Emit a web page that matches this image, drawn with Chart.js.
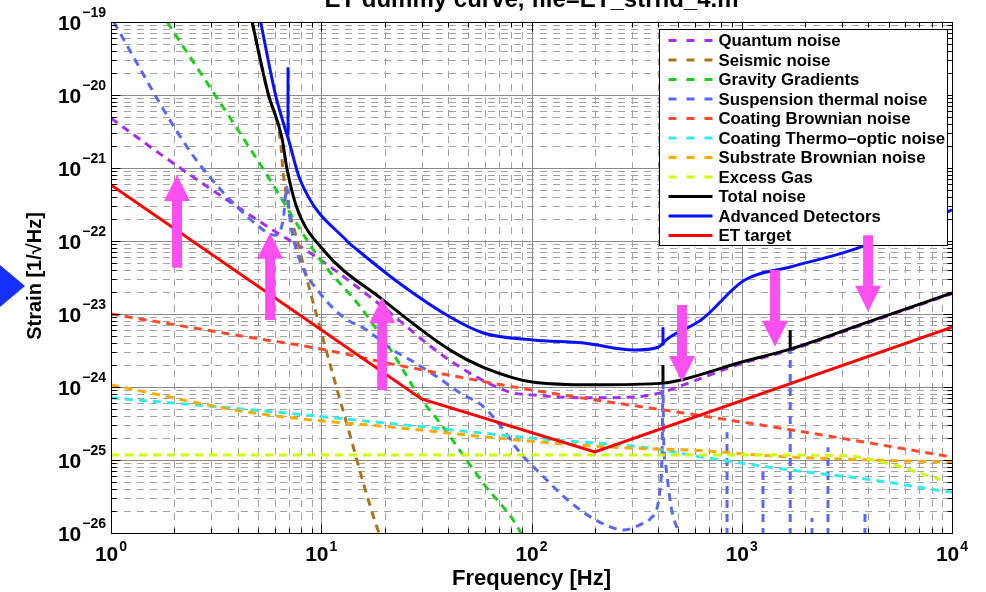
<!DOCTYPE html>
<html>
<head>
<meta charset="utf-8">
<title>ET dummy curve</title>
<script src="https://cdn.jsdelivr.net/npm/chart.js@4.4.1/dist/chart.umd.min.js"></script>
<style>
  html, body { margin: 0; padding: 0; background: #fff; }
  #wrap { width: 986px; height: 592px; position: relative; }
</style>
</head>
<body>
<div id="wrap"><canvas id="myChart"></canvas></div>
<script>
'use strict';

// axis limits and decade labels
let freqMin = 1;
let freqMax = 1e4;
let strainMin = 1e-26;
let strainMax = 1e-19;
let freqExponents = [0, 1, 2, 3, 4];
let strainExponents = [-26, -25, -24, -23, -22, -21, -20, -19];

let titleText = 'ET dummy curve, file=ET_strnd_4.m';
let xTitle = 'Frequency [Hz]';
let yTitle = 'Strain [1/\u221AHz]';

let seriesLabels = [
  'Quantum noise', 'Seismic noise', 'Gravity Gradients', 'Suspension thermal noise',
  'Coating Brownian noise', 'Coating Thermo\u2013optic noise', 'Substrate Brownian noise',
  'Excess Gas', 'Total noise', 'Advanced Detectors', 'ET target'
];

// noise curves, frequency in Hz and strain in 1/sqrt(Hz)
let quantumFreq = [1, 2.1, 5.7, 9.5, 18.4, 41, 79, 100, 177, 307, 422, 520, 1000, 1700, 4000, 10000];
let quantumStrain = [4.8e-21, 1.03e-21, 1.5e-22, 6e-23, 1.45e-23, 2.3e-24, 8.5e-25, 7.8e-25, 7.1e-25, 7.3e-25, 8.5e-25, 1.05e-24, 2.1e-24, 3.2e-24, 7.6e-24, 1.9e-23];

let seismicFreq = [4.69, 5.58, 6.4, 6.6, 7.9, 9.85, 13.2, 18.4, 19.5];
let seismicStrain = [9.8e-20, 1.05e-20, 2.3e-21, 8.3e-22, 7.5e-23, 6.6e-24, 3.2e-25, 1.2e-26, 8e-27];

let gravityFreq = [1.85, 5.26, 10, 15, 21.9, 29.5, 36.8, 59, 86, 92];
let gravityStrain = [1e-19, 1e-21, 5.3e-23, 1.36e-23, 2.9e-24, 7.2e-25, 3.2e-25, 4.8e-26, 1.2e-26, 8e-27];

let suspensionFreq = [1.03, 2.04, 2.72, 5.09, 6.0, 6.6, 6.85, 7.1, 7.9, 9.85, 12.7, 16.5, 21.9, 26.5, 35.5, 45.8, 59, 73.5, 86, 114, 154, 214, 275, 343, 370, 413, 419, 422, 425, 436, 461, 503, 530];
let suspensionStrain = [1e-19, 3.3e-21, 1e-21, 1.55e-22, 1.2e-22, 2e-22, 5.5e-22, 2e-22, 5.5e-23, 1.94e-23, 9.1e-24, 6e-24, 3.2e-24, 2.35e-24, 1.38e-24, 8.3e-25, 5.4e-25, 2.6e-25, 1.38e-25, 5.9e-26, 2.6e-26, 1.38e-26, 1.1e-26, 1.38e-26, 1.6e-26, 5.4e-26, 2e-25, 1.15e-24, 2e-25, 8e-26, 2.3e-26, 1e-26, 7e-27];

// violin modes of the suspension: narrow lines rising from below the plot
let violinFreq = [851, 1262, 1700, 2158, 2571, 3855];
let violinPeak = [2.4e-25, 7.8e-26, 3.4e-24, 1.6e-26, 1.5e-25, 2.1e-26];
let violinBase = [1e-27, 1e-27, 1e-27, 1e-27, 1e-27, 1e-27];

let coatingFreq = [1, 4.56, 9.5, 23, 100, 530, 1700, 10000];
let coatingStrain = [1e-23, 4.8e-24, 3.4e-24, 2e-24, 9.1e-25, 4.4e-25, 2.6e-25, 1.1e-25];

let thermoFreq = [1, 4.56, 28.6, 100, 370, 641, 1700, 4050, 10000];
let thermoStrain = [7.1e-25, 4.9e-25, 2.9e-25, 2.0e-25, 1.45e-25, 1.1e-25, 7.3e-26, 5.4e-26, 3.6e-26];

let substrateFreq = [1, 4.56, 28.6, 100, 300, 530, 1700, 10000];
let substrateStrain = [1.07e-24, 4.5e-25, 2.6e-25, 1.8e-25, 1.45e-25, 1.38e-25, 1.1e-25, 9.3e-26];

let gasFreq = [1, 100, 1000, 3000, 4790, 8770];
let gasStrain = [1.17e-25, 1.17e-25, 1.17e-25, 1.15e-25, 9.2e-26, 5.4e-26];

let totalFreq = [4.69, 5.58, 6.5, 6.86, 7.64, 10.2, 19.7, 41, 59, 101, 197, 422, 520, 1000, 1700, 4000, 10000];
let totalStrain = [1e-19, 1.07e-20, 2.6e-21, 1e-21, 2.9e-22, 7.6e-23, 1.55e-23, 3.2e-24, 1.86e-24, 1.17e-24, 1.07e-24, 1.13e-24, 1.26e-24, 2.2e-24, 3.3e-24, 7.8e-24, 1.94e-23];
let totalSpikeFreq = [422, 1700];
let totalSpikeBase = [1.13e-24, 3.3e-24];
let totalSpikePeak = [2.0e-24, 6e-24];

let advancedFreq = [5.15, 6.03, 6.72, 7.0, 7.93, 13.4, 14.8, 23.7, 41, 59, 102, 177, 307, 400, 445, 641, 1028, 1700, 3333, 10000];
let advancedStrain = [1e-19, 1.07e-20, 3.5e-21, 2.4e-21, 6.9e-22, 9.7e-23, 7.6e-23, 2.6e-23, 9.1e-24, 5.5e-24, 4.4e-24, 4e-24, 3.2e-24, 3.5e-24, 4.6e-24, 8.3e-24, 2.9e-23, 4.4e-23, 7.5e-23, 2.66e-22];
let advancedSpikeFreq = [6.95, 422];
let advancedSpikeBase = [2.8e-21, 3.7e-24];
let advancedSpikePeak = [2.4e-20, 6.6e-24];

let targetFreq = [1, 30, 200, 10000];
let targetStrain = [5.85e-22, 6.85e-25, 1.29e-25, 6.6e-24];

// magenta arrows: frequency, strain at the tail, strain at the tip
let arrowFreq = [2.06, 5.71, 19.5, 520, 1439, 3990];
let arrowFrom = [4.3e-23, 8.3e-24, 9.1e-25, 1.33e-23, 4e-23, 1.2e-22];
let arrowTo = [8e-22, 1.3e-22, 1.7e-23, 1.17e-24, 3.55e-24, 1.07e-23];

// styles
let seriesColors = ['#a52ff0', '#a8761f', '#1fcc1f', '#5a68f5', '#ff4a30', '#33ecec', '#ffab00', '#ccff00', '#000000', '#0a10ff', '#ff0000'];
let seriesDashed = [true, true, true, true, true, true, true, true, false, false, false];
let seriesSmooth = [true, true, true, true, true, true, true, true, true, true, false];
let arrowColor = '#ff4ff0';
let fontFamily = '"Liberation Sans", Arial, Helvetica, sans-serif';


function toPoints(freqs, strains) {
  return freqs.map((f, i) => ({x: f, y: strains[i]}));
}

// vertical resonance lines, each one broken off from the next by a gap
function spikePoints(freqs, bases, peaks) {
  let pts = [];
  for (let i = 0; i < freqs.length; i++) {
    pts.push({x: freqs[i], y: bases[i]});
    pts.push({x: freqs[i], y: peaks[i]});
    pts.push({x: freqs[i], y: null});
  }
  return pts;
}

let seriesData = [
  toPoints(quantumFreq, quantumStrain),
  toPoints(seismicFreq, seismicStrain),
  toPoints(gravityFreq, gravityStrain),
  toPoints(suspensionFreq, suspensionStrain),
  toPoints(coatingFreq, coatingStrain),
  toPoints(thermoFreq, thermoStrain),
  toPoints(substrateFreq, substrateStrain),
  toPoints(gasFreq, gasStrain),
  toPoints(totalFreq, totalStrain),
  toPoints(advancedFreq, advancedStrain),
  toPoints(targetFreq, targetStrain)
];

let datasets = [];
for (let i = 0; i < seriesLabels.length; i++) {
  datasets.push({
    label: seriesLabels[i],
    data: seriesData[i],
    borderColor: seriesColors[i],
    borderWidth: 3,
    borderDash: seriesDashed[i] ? [8, 6] : [],
    pointRadius: 0,
    fill: false,
    cubicInterpolationMode: seriesSmooth[i] ? 'monotone' : 'default',
    tension: 0,
    spanGaps: false,
    // later entries sit on top, like the original plot
    order: seriesLabels.length - i
  });
}

// resonance lines share colour and layer with their parent curve
function addSpikes(parent, pts) {
  let p = datasets[parent];
  datasets.push({
    label: p.label,
    legendSkip: true,
    data: pts,
    borderColor: p.borderColor,
    borderWidth: 3,
    borderDash: p.borderDash,
    pointRadius: 0,
    fill: false,
    tension: 0,
    spanGaps: false,
    order: p.order
  });
}
addSpikes(3, spikePoints(violinFreq, violinBase, violinPeak));
addSpikes(8, spikePoints(totalSpikeFreq, totalSpikeBase, totalSpikePeak));
addSpikes(9, spikePoints(advancedSpikeFreq, advancedSpikeBase, advancedSpikePeak));

function minorValues(exps) {
  let vals = [];
  for (let k = 0; k < exps.length - 1; k++) {
    for (let m = 2; m <= 9; m++) {
      vals.push(m * Math.pow(10, exps[k]));
    }
  }
  return vals;
}

function expText(exp) {
  return exp < 0 ? '\u2212' + Math.abs(exp) : String(exp);
}

function drawPower(ctx, exp, xLeft, yMid, yExpBase) {
  ctx.font = 'bold 21px ' + fontFamily;
  ctx.textAlign = 'left';
  ctx.textBaseline = 'middle';
  ctx.fillText('10', xLeft, yMid);
  let w = ctx.measureText('10').width;
  ctx.font = 'bold 14px ' + fontFamily;
  ctx.textBaseline = 'alphabetic';
  ctx.fillText(expText(exp), xLeft + w + 1, yExpBase);
}

function powerWidth(ctx, exp) {
  ctx.font = 'bold 21px ' + fontFamily;
  let w = ctx.measureText('10').width;
  ctx.font = 'bold 14px ' + fontFamily;
  return w + 1 + ctx.measureText(expText(exp)).width;
}

function drawArrow(ctx, px, yTail, yTip) {
  let dir = yTip < yTail ? -1 : 1;
  let headLen = 26, headHalf = 13, shaftHalf = 5;
  let yBase = yTip - dir * headLen;
  ctx.beginPath();
  ctx.moveTo(px - shaftHalf, yTail);
  ctx.lineTo(px - shaftHalf, yBase);
  ctx.lineTo(px - headHalf, yBase);
  ctx.lineTo(px, yTip);
  ctx.lineTo(px + headHalf, yBase);
  ctx.lineTo(px + shaftHalf, yBase);
  ctx.lineTo(px + shaftHalf, yTail);
  ctx.closePath();
  ctx.fill();
}

const axesDecor = {
  id: 'axesDecor',
  beforeDatasetsDraw(chart) {
    const {ctx, chartArea: area, scales: {x, y}} = chart;
    ctx.save();
    ctx.lineWidth = 1;

    // dashed minor grid
    ctx.strokeStyle = '#a2a2a2';
    ctx.setLineDash([7, 6]);
    ctx.beginPath();
    minorValues(freqExponents).forEach(v => {
      let px = Math.round(x.getPixelForValue(v)) + 0.5;
      ctx.moveTo(px, area.bottom);
      ctx.lineTo(px, area.top);
    });
    minorValues(strainExponents).forEach(v => {
      let py = Math.round(y.getPixelForValue(v)) + 0.5;
      ctx.moveTo(area.left, py);
      ctx.lineTo(area.right, py);
    });
    ctx.stroke();

    // solid decade lines
    ctx.setLineDash([]);
    ctx.strokeStyle = '#8a8a8a';
    ctx.beginPath();
    freqExponents.forEach(e => {
      let px = Math.round(x.getPixelForValue(Math.pow(10, e))) + 0.5;
      ctx.moveTo(px, area.bottom);
      ctx.lineTo(px, area.top);
    });
    strainExponents.forEach(e => {
      let py = Math.round(y.getPixelForValue(Math.pow(10, e))) + 0.5;
      ctx.moveTo(area.left, py);
      ctx.lineTo(area.right, py);
    });
    ctx.stroke();
    ctx.restore();
  },

  afterDatasetsDraw(chart) {
    const {ctx, chartArea: area, scales: {x, y}} = chart;
    ctx.save();

    // axes box with inward ticks on all sides
    ctx.strokeStyle = '#000';
    ctx.lineWidth = 1;
    ctx.setLineDash([]);
    let L = Math.round(area.left) + 0.5, R = Math.round(area.right) + 0.5;
    let T = Math.round(area.top) + 0.5, B = Math.round(area.bottom) + 0.5;
    ctx.strokeRect(L, T, R - L, B - T);
    ctx.beginPath();
    let xTicks = minorValues(freqExponents).map(v => [v, 5]).concat(freqExponents.map(e => [Math.pow(10, e), 9]));
    xTicks.forEach(([v, len]) => {
      let px = Math.round(x.getPixelForValue(v)) + 0.5;
      ctx.moveTo(px, B); ctx.lineTo(px, B - len);
      ctx.moveTo(px, T); ctx.lineTo(px, T + len);
    });
    let yTicks = minorValues(strainExponents).map(v => [v, 5]).concat(strainExponents.map(e => [Math.pow(10, e), 9]));
    yTicks.forEach(([v, len]) => {
      let py = Math.round(y.getPixelForValue(v)) + 0.5;
      ctx.moveTo(L, py); ctx.lineTo(L + len, py);
      ctx.moveTo(R, py); ctx.lineTo(R - len, py);
    });
    ctx.stroke();

    // legend box in the upper right corner
    let lw = 288, lh = 216;
    let lx = Math.round(area.right) - 293 + 0.5, ly = Math.round(area.top) + 7 + 0.5;
    ctx.fillStyle = '#fff';
    ctx.fillRect(lx, ly, lw, lh);
    ctx.strokeStyle = '#000';
    ctx.lineWidth = 1;
    ctx.strokeRect(lx, ly, lw, lh);
    chart.data.datasets.filter(ds => !ds.legendSkip).forEach((ds, i) => {
      let yy = ly + 11 + i * 19.5;
      ctx.strokeStyle = ds.borderColor;
      ctx.lineWidth = 3;
      ctx.setLineDash(ds.borderDash.length ? [8, 10] : []);
      ctx.beginPath();
      ctx.moveTo(lx + 9, yy);
      ctx.lineTo(lx + 53, yy);
      ctx.stroke();
      ctx.fillStyle = '#000';
      ctx.font = 'bold 16.8px ' + fontFamily;
      ctx.textAlign = 'left';
      ctx.textBaseline = 'middle';
      ctx.fillText(ds.label, lx + 59, yy + 1);
    });
    ctx.setLineDash([]);

    // arrows
    ctx.fillStyle = arrowColor;
    for (let i = 0; i < arrowFreq.length; i++) {
      drawArrow(ctx, x.getPixelForValue(arrowFreq[i]), y.getPixelForValue(arrowFrom[i]), y.getPixelForValue(arrowTo[i]));
    }
    ctx.restore();
  },

  afterDraw(chart) {
    const {ctx, chartArea: area, scales: {x, y}} = chart;
    ctx.save();
    ctx.fillStyle = '#000';

    // tick labels as powers of ten
    strainExponents.forEach(e => {
      let py = y.getPixelForValue(Math.pow(10, e));
      let w = powerWidth(ctx, e);
      drawPower(ctx, e, area.left - 5 - w, py + 2, py - 5);
    });
    freqExponents.forEach(e => {
      let px = x.getPixelForValue(Math.pow(10, e));
      let w = powerWidth(ctx, e);
      drawPower(ctx, e, px - w / 2, area.bottom + 22, area.bottom + 18);
    });

    // axis titles
    ctx.font = 'bold 22px ' + fontFamily;
    ctx.textAlign = 'center';
    ctx.textBaseline = 'middle';
    ctx.fillText(xTitle, (area.left + area.right) / 2, area.bottom + 46);
    ctx.save();
    ctx.translate(35, 276);
    ctx.rotate(-Math.PI / 2);
    ctx.font = 'bold 20px ' + fontFamily;
    ctx.fillText(yTitle, 0, 0);
    ctx.restore();

    // title, partly above the canvas edge
    ctx.font = 'bold 24px ' + fontFamily;
    ctx.textBaseline = 'alphabetic';
    ctx.fillText(titleText, (area.left + area.right) / 2, 7);

    // blue pointer at the left edge
    ctx.fillStyle = '#1530ff';
    ctx.beginPath();
    ctx.moveTo(0, 265);
    ctx.lineTo(25, 286);
    ctx.lineTo(0, 307);
    ctx.closePath();
    ctx.fill();
    ctx.restore();
  }
};

let ctx = document.getElementById('myChart').getContext('2d');

const myChart = new Chart(ctx, {
  type: 'line',
  data: { datasets: datasets },
  options: {
    responsive: true,
    maintainAspectRatio: false,
    animation: false,
    layout: { padding: { left: 111, right: 34, top: 22, bottom: 59 } },
    scales: {
      x: { type: 'logarithmic', min: freqMin, max: freqMax, display: false },
      y: { type: 'logarithmic', min: strainMin, max: strainMax, display: false }
    },
    plugins: {
      legend: { display: false },
      tooltip: { enabled: false }
    }
  },
  plugins: [axesDecor]
});
</script>
</body>
</html>
